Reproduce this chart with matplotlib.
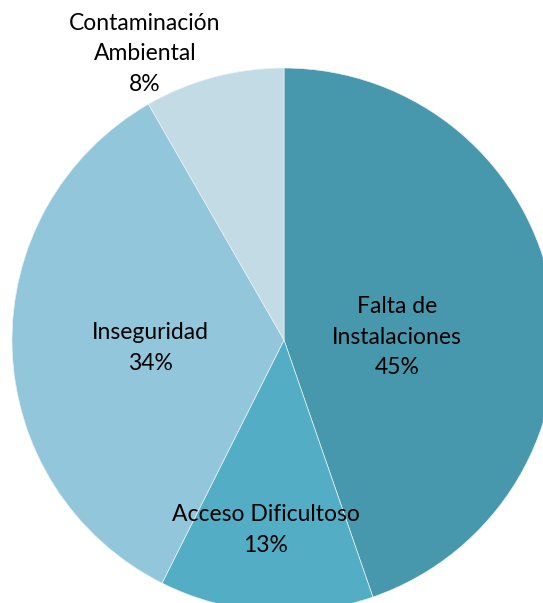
import matplotlib

matplotlib.use("Agg")
import matplotlib.pyplot as plt

LABELS = ["Falta de\nInstalaciones", "Acceso Dificultoso", "Inseguridad", "Contaminación\nAmbiental"]
SHARES = [44.7, 12.7, 34.3, 8.3]
COLORS = ["#4797AD", "#53AEC5", "#91C6DB", "#C2DBE4"]

# label anchor points (pixel coords, y from top)
LABEL_POS = [(397, 337), (266, 530), (150, 348), (145, 54)]

W, H = 543, 603
fig = plt.figure(figsize=(W / 100, H / 100), dpi=100)
ax = fig.add_axes([0, 0, 1, 1])

ax.pie(
    SHARES,
    colors=COLORS,
    startangle=90,
    counterclock=False,
    center=(284, H - 340),
    radius=272,
    wedgeprops=dict(edgecolor="#E8F2F5", linewidth=0.5),
)

for lab, share, (px, py) in zip(LABELS, SHARES, LABEL_POS):
    ax.text(px, H - py, f"{lab}\n{round(share)}%", ha="center", va="center",
            fontsize=16.5, family="Lato", linespacing=1.55, color="black")

ax.set_xlim(0, W)
ax.set_ylim(0, H)
ax.set_aspect("auto")
ax.axis("off")

fig.savefig("out.png", dpi=100)
